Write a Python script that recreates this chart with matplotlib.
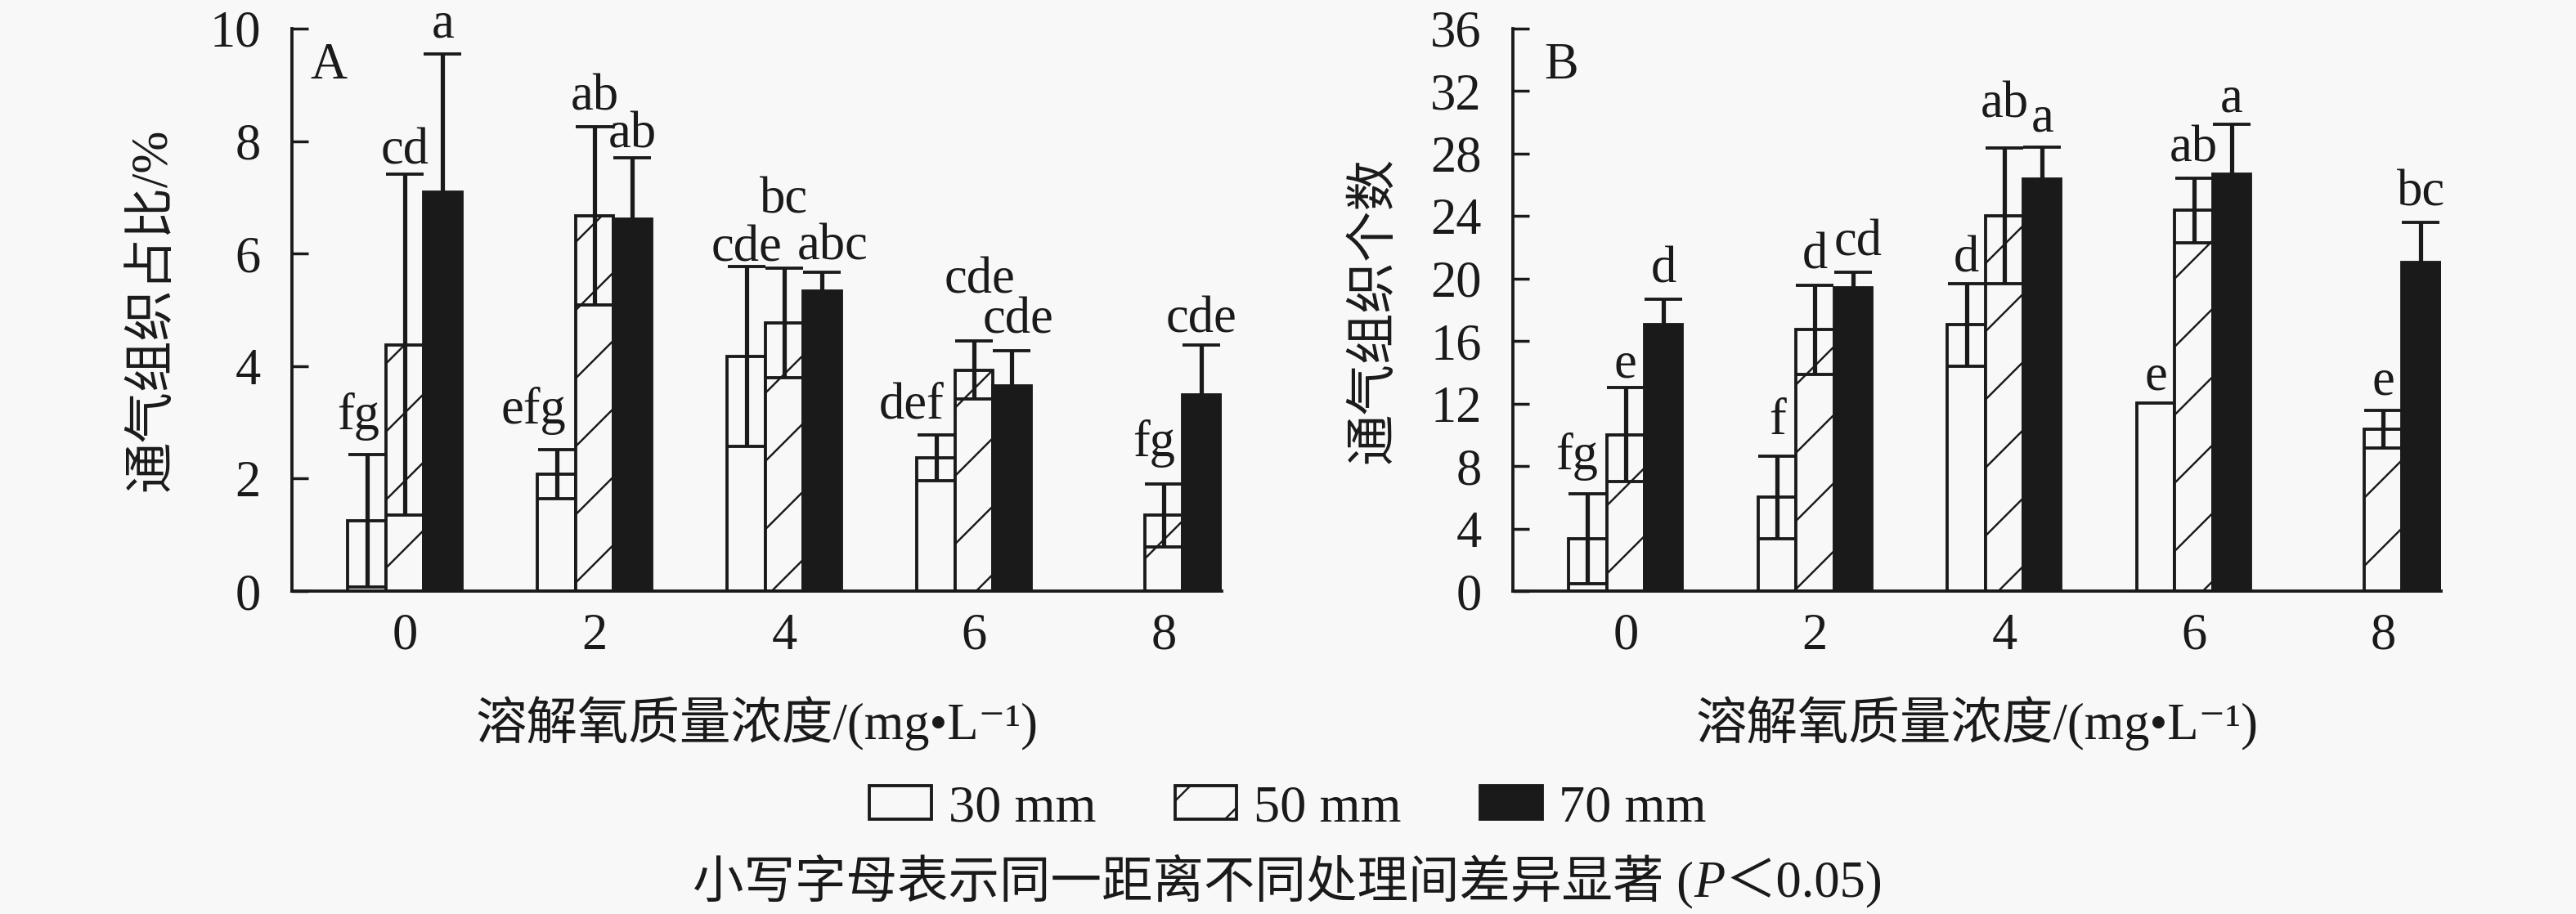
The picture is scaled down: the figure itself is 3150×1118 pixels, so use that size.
import numpy as np
import matplotlib
matplotlib.use('Agg')
from matplotlib import pyplot as plt
from matplotlib.patches import Patch

plt.rcParams['font.family'] = ['Liberation Serif', 'Noto Sans CJK SC', 'DejaVu Sans']
plt.rcParams['font.size'] = 18
plt.rcParams['hatch.linewidth'] = 0.7
plt.rcParams['hatch.color'] = '#1a1a1a'
plt.rcParams['axes.unicode_minus'] = False

doses = ['0', '2', '4', '6', '8']
series = ['30 mm', '50 mm', '70 mm']

# A: aerenchyma proportion (%)
ratio_30 = [1.25, 2.08, 4.17, 2.37, np.nan]
ratio_50 = [4.38, 6.67, 4.77, 3.93, 1.35]
ratio_70 = [7.09, 6.61, 5.33, 3.65, 3.49]
ratio_30_err = [1.18, 0.44, 1.60, 0.41, np.nan]
ratio_50_err = [3.03, 1.59, 0.97, 0.52, 0.56]
ratio_70_err = [2.46, 1.10, 0.34, 0.62, 0.89]
ratio_30_sig = ['fg', 'efg', 'cde', 'def', '']
ratio_50_sig = ['cd', 'ab', 'bc', 'cde', 'fg']
ratio_70_sig = ['a', 'ab', 'abc', 'cde', 'cde']

# B: aerenchyma count
count_30 = [3.33, 6.00, 17.04, 12.05, np.nan]
count_50 = [10.01, 16.73, 24.02, 24.37, 10.36]
count_70 = [17.04, 19.43, 26.36, 26.70, 21.05]
count_30_err = [2.88, 2.65, 2.63, 0.0, np.nan]
count_50_err = [3.02, 2.85, 4.36, 2.06, 1.18]
count_70_err = [1.66, 1.00, 2.04, 3.20, 2.57]
count_30_sig = ['fg', 'f', 'd', 'e', '']
count_50_sig = ['e', 'd', 'ab', 'ab', 'e']
count_70_sig = ['d', 'cd', 'a', 'a', 'bc']

BG = '#f8f8f8'
INK = '#1a1a1a'
PX = 72 / 250  # pixels -> points at dpi 250
styles = [dict(facecolor=BG, hatch=None),
          dict(facecolor=BG, hatch='/'),
          dict(facecolor=INK, hatch=None)]

# letter label nudges in pixels (series, group): (dx, dy)
nudge_a = {(0, 0): (-10, 11), (1, 0): (0, -7), (0, 1): (-28, 12), (2, 1): (0, -8),
           (0, 2): (0, -13), (1, 2): (0, 48), (2, 2): (13, -5), (0, 3): (-30, 0),
           (1, 3): (7, 38), (2, 3): (8, 2), (1, 4): (-12, 14), (2, 4): (0, -5)}
nudge_b = {(0, 0): (-13, 10), (1, 0): (0, -8), (0, 1): (0, 7), (2, 1): (6, 0),
           (0, 2): (0, -5), (1, 2): (0, 17), (0, 3): (0, -4), (2, 3): (0, -5)}


def panel(ax, vals, errs, sigs, nudges, ymax, step, ylabel, tag, tag_x):
    x = np.arange(len(doses))
    w = 0.2
    for i, (v, e, s) in enumerate(zip(vals, errs, sigs)):
        v = np.array(v, dtype=float)
        e = np.array(e, dtype=float)
        xs = x + (i - 1) * w
        ok = ~np.isnan(v)
        ax.bar(xs[ok], v[ok], w, edgecolor=INK, linewidth=1.1, zorder=2, **styles[i])
        has = ok & (np.nan_to_num(e) > 0)
        ax.errorbar(xs[has], v[has], yerr=e[has], fmt='none', ecolor=INK,
                    elinewidth=1.5, capsize=6.5, capthick=1.1, zorder=3)
        for j in range(len(doses)):
            if not s[j]:
                continue
            top = v[j] + np.nan_to_num(e[j])
            dx, dy = nudges.get((i, j), (0, 0))
            ax.annotate(s[j], xy=(xs[j], top), xytext=(dx * PX, (20 + dy) * PX),
                        textcoords='offset points', ha='center', va='baseline',
                        color=INK, annotation_clip=False)
    ax.set_xlim(-0.595, 4.306)
    ax.set_ylim(0, ymax)
    ax.set_yticks(np.arange(0, ymax + 0.1, step))
    ax.set_xticks(x)
    ax.set_xticklabels(doses)
    ax.set_facecolor(BG)
    for side in ('top', 'right'):
        ax.spines[side].set_visible(False)
    for side in ('left', 'bottom'):
        ax.spines[side].set_linewidth(1.1)
        ax.spines[side].set_color(INK)
    ax.tick_params(axis='y', direction='in', length=5.8, width=1.0, pad=11, colors=INK)
    ax.tick_params(axis='x', length=0, pad=7.7, colors=INK)
    ax.set_ylabel(ylabel, color=INK)
    ax.yaxis.set_label_coords(-0.123, 0.5)
    ax.set_xlabel('溶解氧质量浓度/(mg•L⁻¹)', color=INK)
    ax.xaxis.set_label_coords(0.5, -0.187)
    ax.text(tag_x, 0.975, tag, transform=ax.transAxes, ha='left', va='top', color=INK)


fig = plt.figure(figsize=(12.6, 4.472), dpi=250, facecolor=BG)
ax_a = fig.add_axes([0.1133, 0.3533, 0.3610, 0.6154])
ax_b = fig.add_axes([0.5873, 0.3533, 0.3603, 0.6154])

panel(ax_a, [ratio_30, ratio_50, ratio_70], [ratio_30_err, ratio_50_err, ratio_70_err],
      [ratio_30_sig, ratio_50_sig, ratio_70_sig], nudge_a, 10, 2, '通气组织占比/%', 'A', 0.02)
panel(ax_b, [count_30, count_50, count_70], [count_30_err, count_50_err, count_70_err],
      [count_30_sig, count_50_sig, count_70_sig], nudge_b, 36, 4, '通气组织个数', 'B', 0.034)

handles = [Patch(edgecolor=INK, linewidth=1.1, **st) for st in styles]
fig.legend(handles, series, loc='center', bbox_to_anchor=(0.5, 0.115), ncol=3,
           frameon=False, handlelength=1.18, handleheight=0.6, handletextpad=0.32,
           columnspacing=1.5, fontsize=18.5, labelcolor=INK)

# caption with italic P
t1 = fig.text(0.269, 0.0188, '小写字母表示同一距离不同处理间差异显著 (', ha='left',
              va='baseline', color=INK)
t2 = ax_a.annotate('P', xy=(1, 0.0188), xycoords=(t1, fig.transFigure), ha='left',
                   va='baseline', style='italic', color=INK, annotation_clip=False)
ax_a.annotate('＜0.05)', xy=(1, 0.0188), xycoords=(t2, fig.transFigure), ha='left',
              va='baseline', color=INK, annotation_clip=False)

fig.savefig('out.png', dpi=250, facecolor=BG)
